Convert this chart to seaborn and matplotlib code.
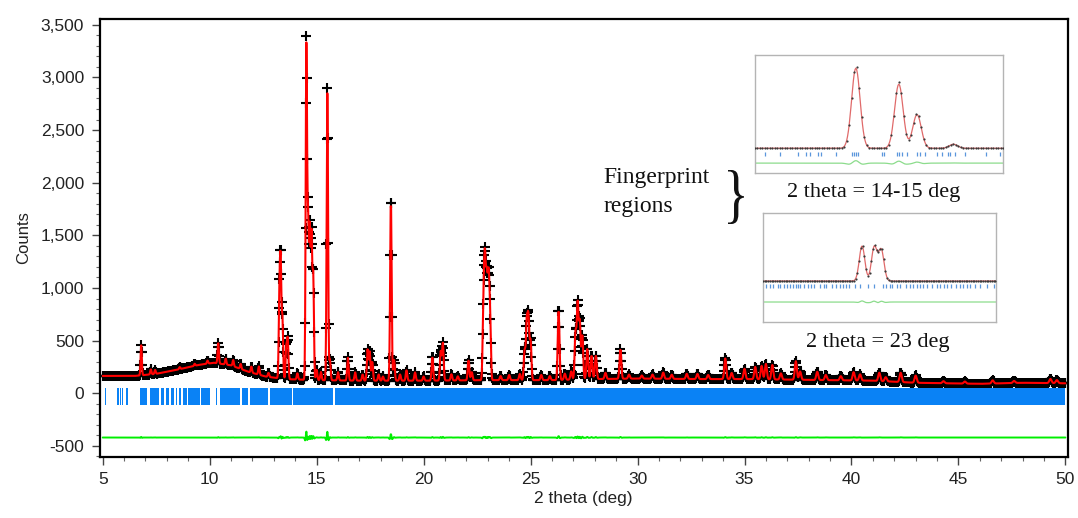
import numpy as np
import pandas as pd
import matplotlib
matplotlib.use("Agg")
import matplotlib.pyplot as plt
import seaborn as sns
from matplotlib.ticker import MultipleLocator, FuncFormatter
from matplotlib.textpath import TextPath
from matplotlib.font_manager import FontProperties
from matplotlib.patches import PathPatch
from matplotlib.transforms import Affine2D

# ---------------------------------------------------------------- data
# Reflections of the refined pattern: position (deg 2-theta) and net intensity (counts)
peak_pos = [6.80, 7.25, 7.45, 8.60, 9.30, 9.90, 10.40, 10.75, 11.10, 11.45, 11.95, 12.30, 12.75,
            13.26, 13.32, 13.40, 13.58, 13.65, 14.10,
            14.52, 14.60, 14.68, 14.76, 14.84, 15.00, 15.20, 15.50, 15.62, 16.00, 16.46, 16.80,
            17.15, 17.38, 17.48, 17.60, 17.90, 18.10, 18.47, 18.62, 18.90, 19.20, 19.60, 20.00,
            20.41, 20.80, 20.90, 21.30, 21.60, 22.10, 22.25,
            22.80, 22.87, 22.95, 23.03, 23.10, 23.60, 24.00, 24.50,
            24.72, 24.82, 24.90, 25.00, 25.50, 25.90, 26.31, 26.60, 26.90,
            27.10, 27.20, 27.30, 27.42, 27.65, 27.85, 28.05, 28.50, 29.20, 29.60,
            30.20, 30.70, 31.20, 31.60, 32.30, 32.80, 33.30, 34.10, 34.40,
            35.00, 35.50, 35.80, 36.00, 36.30, 36.70, 37.40, 37.60, 38.40, 38.80, 39.50,
            40.10, 40.40, 41.30, 41.60, 42.30, 43.00, 44.30, 45.30, 46.60, 47.60, 49.30, 49.60]
peak_int = [290, 50, 40, 20, 20, 30, 195, 60, 60, 50, 60, 80, 40,
            780, 1080, 580, 300, 380, 60,
            3200, 1450, 1400, 1350, 1000, 100, 80, 2780, 200, 80, 220, 80,
            60, 300, 280, 180, 60, 40, 1760, 200, 60, 100, 80, 40,
            230, 280, 360, 60, 40, 190, 80,
            780, 1050, 900, 900, 620, 40, 50, 60,
            280, 540, 580, 380, 50, 40, 680, 60, 80,
            450, 720, 550, 420, 300, 230, 230, 60, 280, 40,
            30, 40, 60, 40, 50, 50, 40, 200, 60,
            100, 120, 130, 150, 140, 60, 180, 80, 80, 50, 40,
            80, 60, 80, 40, 90, 70, 20, 20, 30, 20, 40, 30]

# Refined background (counts) at control angles
bg_x = [5.0, 6.5, 7.5, 8.5, 9.5, 10.2, 11.0, 11.8, 12.6, 13.5, 15.0, 17.0, 20.0, 23.0,
        26.0, 28.0, 30.0, 33.0, 35.0, 37.0, 39.0, 41.0, 43.0, 46.0, 48.0, 50.0]
bg_y = [165, 165, 185, 225, 270, 290, 265, 205, 160, 135, 125, 120, 120, 125,
        125, 135, 140, 135, 135, 130, 125, 120, 100, 90, 100, 95]

# Bragg reflection markers, grouped into runs of closely spaced reflections (deg 2-theta)
tick_lo = [5.11, 5.68, 5.81, 5.90, 6.11, 6.72, 7.19, 7.73, 7.95, 8.18, 8.43, 8.57, 8.73,
           9.01, 9.60, 10.30, 10.49, 11.50, 11.89, 12.82, 13.91, 15.85]
tick_hi = [5.17, 5.74, 5.86, 5.95, 6.17, 7.06, 7.65, 7.87, 8.10, 8.34, 8.49, 8.65, 8.93,
           9.55, 10.02, 10.36, 11.42, 11.81, 12.74, 13.83, 15.78, 50.00]

# Close-up of the 14-15 deg fingerprint region
fp1_pos = [14.61, 14.87, 14.98, 15.20]
fp1_int = [100, 80, 42, 5]
fp1_ticks = [14.06, 14.15, 14.26, 14.31, 14.33, 14.38, 14.40, 14.49, 14.585, 14.60, 14.61,
             14.625, 14.77, 14.78, 14.86, 14.87, 14.89, 14.92, 14.98, 15.00, 15.03, 15.10,
             15.13, 15.17, 15.18, 15.21, 15.27, 15.40, 15.48]

# Close-up of the 23 deg fingerprint region
fp2_pos = [22.85, 22.955, 23.015]
fp2_int = [36, 35, 32]
fp2_ticks = [22.03, 22.06, 22.09, 22.13, 22.15, 22.18, 22.21, 22.23, 22.26, 22.28, 22.30,
             22.32, 22.35, 22.39, 22.41, 22.44, 22.49, 22.52, 22.54, 22.59, 22.63, 22.66,
             22.69, 22.71, 22.74, 22.79, 22.83, 22.90, 22.95, 23.03, 23.06, 23.09, 23.11,
             23.15, 23.18, 23.23, 23.26, 23.29, 23.32, 23.35, 23.37, 23.41, 23.45, 23.49,
             23.52, 23.55, 23.58, 23.61, 23.66, 23.69, 23.72, 23.75, 23.78, 23.82, 23.86,
             23.92, 23.98]

# ---------------------------------------------------------------- profiles
STEP = 0.02
DIFF_OFFSET = -420
TICK_BAND = (-110, 165)


def peak_sum(grid, pos, inten, width_fn, broaden=1.0):
    y = np.zeros_like(grid)
    for p, h in zip(pos, inten):
        s = width_fn(p) * broaden
        y += h / broaden * np.exp(-0.5 * ((grid - p) / s) ** 2)
    return y


def main_width(p):
    return 0.026 + 0.0006 * (p - 5.0)


tt = np.round(np.arange(5.0, 50.0 + 1e-9, STEP), 3)
bg = np.interp(tt, bg_x, bg_y)
y_obs = bg + peak_sum(tt, peak_pos, peak_int, main_width)
y_calc = bg + peak_sum(tt, peak_pos, peak_int, main_width, broaden=1.02)
pattern = pd.DataFrame({"two_theta": tt, "obs": y_obs, "calc": y_calc,
                        "diff": y_obs - y_calc + DIFF_OFFSET})

# ---------------------------------------------------------------- figure
sns.set_theme(style="ticks")
plt.rcParams["font.family"] = ["Liberation Sans", "DejaVu Sans"]
plt.rcParams["axes.unicode_minus"] = False

W, H = 1078, 518
fig = plt.figure(figsize=(W / 100, H / 100), dpi=100)
ax = fig.add_axes([99.5 / W, 1 - 457 / H, (1068 - 99.5) / W, (457 - 19) / H])

sns.scatterplot(data=pattern, x="two_theta", y="obs", marker="+", s=50, color="black",
                linewidth=1.5, ax=ax, zorder=2, legend=False)
sns.lineplot(data=pattern, x="two_theta", y="calc", color="#ff0000", lw=1.5,
             estimator=None, sort=False, ax=ax, zorder=3)
sns.lineplot(data=pattern, x="two_theta", y="diff", color="#00ee00", lw=1.4,
             estimator=None, sort=False, ax=ax, zorder=3)
ax.broken_barh([(lo, hi - lo) for lo, hi in zip(tick_lo, tick_hi)], TICK_BAND,
               facecolor="#0a82f5", edgecolor="none", zorder=2)

ax.set_xlim(4.85, 50.12)
ax.set_ylim(-605, 3555)
ax.xaxis.set_major_locator(MultipleLocator(5))
ax.xaxis.set_minor_locator(MultipleLocator(1))
ax.yaxis.set_major_locator(MultipleLocator(500))
ax.yaxis.set_minor_locator(MultipleLocator(100))
ax.yaxis.set_major_formatter(FuncFormatter(lambda v, _: f"{v:,.0f}"))
ax.tick_params(which="major", direction="out", length=6, width=1.0, color="#444444",
               labelsize=12.5, labelcolor="#222222", pad=5)
ax.tick_params(which="minor", direction="out", length=3, width=0.8, color="#666666")
for sp in ax.spines.values():
    sp.set_linewidth(1.6)
    sp.set_color("black")
ax.set_xlabel("2 theta (deg)", fontsize=12.5, color="#222222", labelpad=3)
ax.set_ylabel("Counts", fontsize=12, color="#222222", labelpad=7)

# ---------------------------------------------------------------- close-up panels
def fingerprint_panel(rect_px, x_range, y_range, pos, inten, ticks, width, tick_y, diff_y):
    x0, y0, x1, y1 = rect_px
    iax = fig.add_axes([x0 / W, 1 - y1 / H, (x1 - x0) / W, (y1 - y0) / H])
    g = np.round(np.arange(x_range[0], x_range[1] + 1e-9, 0.005), 4)
    obs = peak_sum(g, pos, inten, lambda p: width)
    calc = peak_sum(g, pos, inten, lambda p: width, broaden=1.03)
    panel = pd.DataFrame({"two_theta": g, "obs": obs, "calc": calc,
                          "diff": (obs - calc) + diff_y})
    sns.lineplot(data=panel, x="two_theta", y="calc", color="#e06a6a", lw=0.9,
                 estimator=None, sort=False, ax=iax)
    sns.scatterplot(data=panel.iloc[::3], x="two_theta", y="obs", color="#3a3a3a",
                    s=2.5, linewidth=0, ax=iax, legend=False, zorder=3)
    sns.lineplot(data=panel, x="two_theta", y="diff", color="#8cdc8c", lw=0.9,
                 estimator=None, sort=False, ax=iax)
    iax.vlines(ticks, tick_y[0], tick_y[1], color="#5a96dc", lw=0.9)
    iax.set_xlim(*x_range)
    iax.set_ylim(*y_range)
    iax.set_xticks([])
    iax.set_yticks([])
    iax.set_xlabel("")
    iax.set_ylabel("")
    for sp in iax.spines.values():
        sp.set_color("#b4b4b4")
        sp.set_linewidth(1.0)
    return iax


fingerprint_panel((755, 55, 1003, 173), (14.0, 15.5), (-30, 113), fp1_pos, fp1_int,
                  fp1_ticks, 0.025, (-9.5, -4), -18)
fingerprint_panel((763, 213, 996, 322), (22.0, 24.0), (-41, 68), fp2_pos, fp2_int,
                  fp2_ticks, 0.023, (-7, -3), -21)

serif = ["Liberation Serif", "DejaVu Serif"]
fig.text(874 / W, 1 - 197 / H, "2 theta = 14-15 deg", family=serif, fontsize=16,
         ha="center", va="baseline", color="#111111")
fig.text(878 / W, 1 - 347 / H, "2 theta = 23 deg", family=serif, fontsize=16,
         ha="center", va="baseline", color="#111111")
fig.text(603 / W, 1 - 183 / H, "Fingerprint", family=serif, fontsize=17,
         ha="left", va="baseline", color="#111111")
fig.text(603 / W, 1 - 212 / H, "regions", family=serif, fontsize=17,
         ha="left", va="baseline", color="#111111")

# tall, slim brace grouping the two close-ups with the label
brace = TextPath((0, 0), "}", size=1, prop=FontProperties(family="Liberation Serif"))
ext = brace.get_extents()
bx0, bx1, by0, by1 = 728, 744, 170, 224
tr = (Affine2D().translate(-ext.x0, -ext.y0)
      .scale((bx1 - bx0) / ext.width, (by1 - by0) / ext.height)
      .translate(bx0, H - by1))
fig.patches.append(PathPatch(brace, transform=tr, facecolor="#111111", edgecolor="none",
                             figure=fig))

fig.savefig("out.png", dpi=100)
